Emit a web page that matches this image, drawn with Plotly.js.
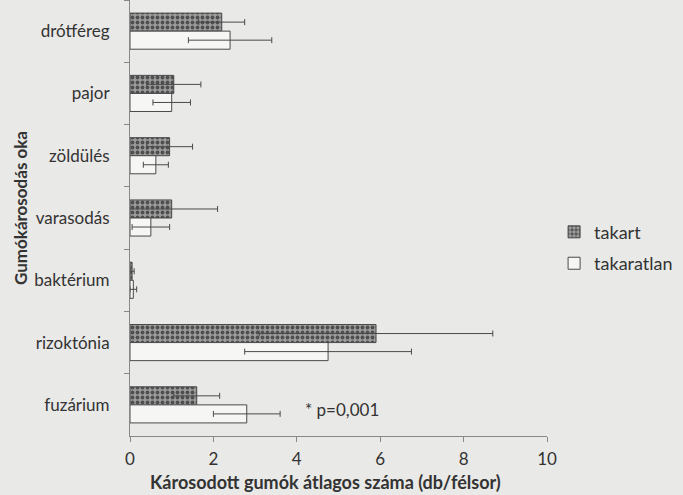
<!DOCTYPE html>
<html>
<head>
<meta charset="utf-8">
<script src="https://cdn.plot.ly/plotly-3.0.1.min.js"></script>
<style>html,body{margin:0;padding:0;background:#e9e9e7;}#chart{width:683px;height:495px;}</style>
</head>
<body>
<div id="chart"></div>
<script>
const categories = ['drótféreg','pajor','zöldülés','varasodás','baktérium','rizoktónia','fuzárium'];
const takart = [2.2, 1.05, 0.95, 1.0, 0.05, 5.9, 1.6];
const takartErr = [0.55, 0.65, 0.55, 1.1, 0.05, 2.8, 0.55];
const takaratlan = [2.4, 1.0, 0.62, 0.5, 0.08, 4.75, 2.8];
const takaratlanErr = [1.0, 0.45, 0.3, 0.45, 0.08, 2.0, 0.8];
const xTicks = [0, 2, 4, 6, 8, 10];

const ink = '#4a4a4a';
const txt = '#333333';
const font = 'Lato, "Open Sans", sans-serif';

const traces = [
  {
    type: 'bar', orientation: 'h', name: 'takart', legendgroup: 'a',
    y: categories, x: takart,
    error_x: {type: 'data', array: takartErr, symmetric: true, color: ink, thickness: 1, width: 3},
    marker: {color: '#939393', line: {color: ink, width: 1},
      pattern: {shape: '.', bgcolor: '#9c9c9c', fgcolor: '#4f4f4f', size: 5, solidity: 0.45}}
  },
  {
    type: 'bar', orientation: 'h', name: 'takaratlan', legendgroup: 'b',
    y: categories, x: takaratlan,
    error_x: {type: 'data', array: takaratlanErr, symmetric: true, color: ink, thickness: 1, width: 3},
    marker: {color: '#f6f6f5', line: {color: ink, width: 1}}
  }
];

const layout = {
  width: 683, height: 495,
  paper_bgcolor: '#e9e9e7', plot_bgcolor: '#e9e9e7',
  margin: {l: 130, r: 136, t: 0, b: 59},
  barmode: 'group', bargap: 0.42, bargroupgap: 0,
  font: {family: font, color: txt, size: 15},
  showlegend: true,
  legend: {x: 1.017, y: 0.51, xanchor: 'left', yanchor: 'top', bgcolor: 'rgba(0,0,0,0)',
    itemwidth: 30, font: {size: 18, color: txt}, tracegroupgap: 5, traceorder: 'grouped'},
  xaxis: {
    range: [0, 10], tickvals: xTicks, ticktext: xTicks.map(String),
    showgrid: false, zeroline: false, showline: true, linecolor: '#888', linewidth: 1,
    ticks: 'outside', ticklen: 5, tickcolor: '#888', ticklabelstandoff: 3,
    tickfont: {size: 17, color: txt}
  },
  yaxis: {
    type: 'category', autorange: 'reversed',
    showgrid: false, zeroline: false, showline: true, linecolor: '#888', linewidth: 1,
    ticks: 'outside', ticklen: 5, tickcolor: '#888', tickson: 'boundaries', ticklabelstandoff: 16,
    tickfont: {size: 17, color: txt}
  },
  annotations: [
    {xref: 'x', yref: 'y', x: 4.15, y: 'fuzárium', yshift: -5, xanchor: 'left', showarrow: false,
     text: '* p=0,001', font: {size: 17, color: txt}},
    {xref: 'paper', yref: 'paper', x: (325 - 130) / 417, y: -(482 - 436) / 436, xanchor: 'center', yanchor: 'middle',
     showarrow: false, text: '<b>Károsodott gumók átlagos száma (db/félsor)</b>', font: {size: 18, color: txt}},
    {xref: 'paper', yref: 'paper', x: (20 - 130) / 417, y: 1 - 208 / 436, xanchor: 'center', yanchor: 'middle',
     textangle: -90, showarrow: false, text: '<b>Gumókárosodás oka</b>', font: {size: 17, color: txt}}
  ]
};

Plotly.newPlot('chart', traces, layout, {displayModeBar: false, staticPlot: true});
</script>
</body>
</html>
